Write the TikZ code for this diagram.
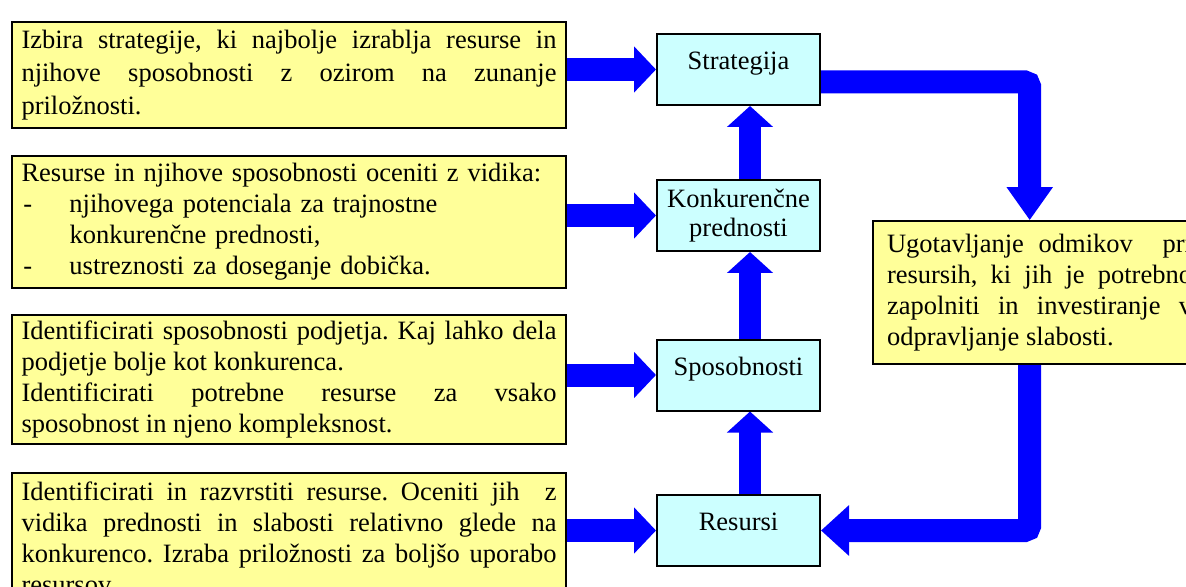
\documentclass[tikz,border=0pt]{standalone}
\usepackage{fontspec}
\setmainfont{Liberation Serif}
\usetikzlibrary{arrows.meta,calc,backgrounds}
\setlength{\parindent}{0pt}
\frenchspacing

\definecolor{notefill}{HTML}{FFFF99}
\definecolor{stagefill}{HTML}{CCFFFF}
\definecolor{flowblue}{HTML}{0000FF}

\newcommand{\itemdash}{\makebox[24pt][l]{\hspace{1pt}-}}

\tikzset{
  textfont/.style={font=\fontsize{13.25pt}{#1}\selectfont},
  note/.style={draw=black, line width=0.8pt, fill=notefill,
    text width=267.5pt, inner xsep=4.75pt, inner ysep=0pt,
    align=justify, textfont=15.5pt},
  stage/.style={draw=black, line width=1pt, fill=stagefill,
    minimum width=81.5pt, minimum height=35.5pt, inner sep=0pt,
    align=center, textfont=14.5pt},
  oneline/.style={text height=9pt, text depth=9pt},
  feed/.style={draw=flowblue, line width=11.5pt,
    -{Triangle[length=11pt,width=22.5pt]}},
  rise/.style={draw=flowblue, line width=11pt,
    -{Triangle[length=10.5pt,width=22.5pt]}},
  loopline/.style={draw=flowblue, line width=11.5pt, rounded corners=2.5pt},
}

\begin{document}
\begin{tikzpicture}[x=0.5pt,y=-0.5pt]
\useasboundingbox (0,0) rectangle (1186,587);
\clip (0,0) rectangle (1186,587);

% explanatory notes on the left
\node[note, minimum height=53pt, textfont=16.5pt] (n1) at (289,75)
  {Izbira strategije, ki najbolje izrablja resurse in\linebreak
   njihove sposobnosti z ozirom na zunanje\linebreak
   priložnosti.};
\node[note, minimum height=66pt, align=left] (n2) at (289,222)
  {Resurse in njihove sposobnosti oceniti z vidika:\par
   \itemdash njihovega potenciala za trajnostne\par
   \hspace*{24pt}konkurenčne prednosti,\par
   \itemdash ustreznosti za doseganje dobička.};
\node[note, minimum height=64.5pt] (n3) at (289,379.5)
  {Identificirati sposobnosti podjetja. Kaj lahko dela
   podjetje bolje kot konkurenca.\par
   Identificirati potrebne resurse za vsako\linebreak
   sposobnost in njeno kompleksnost.};
\node[note, minimum height=64.5pt] (n4) at (289,537.5)
  {Identificirati in razvrstiti resurse. Oceniti jih\ \ z\linebreak
   vidika prednosti in slabosti relativno glede na\linebreak
   konkurenco. Izraba priložnosti za boljšo uporabo\linebreak
   resursov.};

% central chain
\node[stage, oneline] (strat) at (738.5,69.5) {Strategija};
\node[stage] (konk) at (738.5,215.5) {Konkurenčne\\prednosti};
\node[stage, oneline] (spos) at (738.5,375) {Sposobnosti};
\node[stage, oneline] (res) at (738.5,530.5) {Resursi};

% gap analysis box on the right
\node[note, text width=152.5pt, inner xsep=7pt, minimum height=71.5pt]
  (ugot) at (1039.5,292.5)
  {Ugotavljanje odmikov\ \ pri\linebreak
   resursih, ki jih je potrebno\linebreak
   zapolniti in investiranje v\linebreak
   odpravljanje slabosti.};

\begin{scope}[on background layer]
  \draw[feed] (n1.east |- strat.west) -- (strat.west);
  \draw[feed] (n2.east |- konk.west) -- (konk.west);
  \draw[feed] (n3.east |- spos.west) -- (spos.west);
  \draw[feed] (n4.east |- res.west) -- (res.west);

  \draw[rise] ($(res.north)+(11.5,0)$) -- ($(spos.south)+(11.5,0)$);
  \draw[rise] ($(spos.north)+(11.5,0)$) -- ($(konk.south)+(11.5,0)$);
  \draw[rise] ($(konk.north)+(11.5,0)$) -- ($(strat.south)+(11.5,0)$);

  \draw[loopline, -{Triangle[length=16.5pt,width=22pt]}]
    ($(strat.east)+(0,12.5)$) -| ($(ugot.north west)+(157.5,0)$);
  \draw[loopline, -{Triangle[length=14pt,width=24.5pt]}]
    ($(ugot.south west)+(157.5,0)$) |- (res.east);
\end{scope}
\end{tikzpicture}
\end{document}
